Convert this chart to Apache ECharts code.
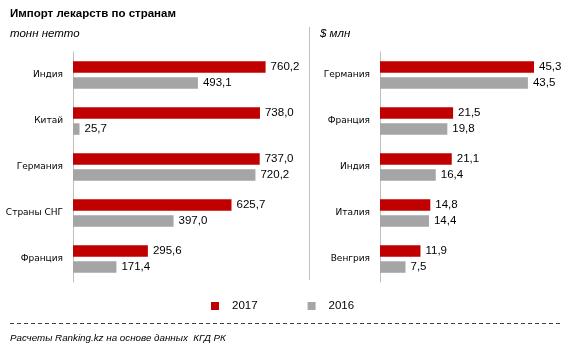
<!DOCTYPE html>
<html>
<head>
<meta charset="utf-8">
<script src="https://cdn.jsdelivr.net/npm/echarts@6/dist/echarts.min.js"></script>
<style>
  html, body { margin: 0; padding: 0; background: #fff; }
  #chart { width: 572px; height: 351px; }
</style>
</head>
<body>
<div id="chart"></div>
<script>
// left panel: tonnes
var tonCategories = ['Индия', 'Китай', 'Германия', 'Страны СНГ', 'Франция'];
var ton2017 = [760.2, 738.0, 737.0, 625.7, 295.6];
var ton2016 = [493.1, 25.7, 720.2, 397.0, 171.4];

// right panel: $ mln
var usdCategories = ['Германия', 'Франция', 'Индия', 'Италия', 'Венгрия'];
var usd2017 = [45.3, 21.5, 21.1, 14.8, 11.9];
var usd2016 = [43.5, 19.8, 16.4, 14.4, 7.5];

var RED = '#C00000';
var GRAY = '#A5A5A5';
var catFont = { fontFamily: 'DejaVu Sans', fontSize: 9, color: '#000' };
var valFont = { fontFamily: 'Liberation Sans', fontSize: 11.5, color: '#000' };

function fmt(p) {
  return p.value.toFixed(1).replace('.', ',');
}

function makeBar(name, color, data, xi) {
  return {
    name: name,
    type: 'bar',
    xAxisIndex: xi,
    yAxisIndex: xi,
    data: data,
    barWidth: 11.5,
    barGap: '40%',
    itemStyle: { color: color },
    label: {
      show: true,
      position: 'right',
      distance: 5,
      formatter: fmt,
      fontFamily: valFont.fontFamily,
      fontSize: valFont.fontSize,
      color: valFont.color
    },
    animation: false
  };
}

function makeYAxis(idx, cats) {
  return {
    type: 'category',
    gridIndex: idx,
    data: cats,
    inverse: true,
    axisTick: { show: false },
    axisLine: { show: true, lineStyle: { color: '#BFBFBF', width: 1 } },
    axisLabel: {
      margin: 10,
      fontFamily: catFont.fontFamily,
      fontSize: catFont.fontSize,
      color: catFont.color
    }
  };
}

function makeXAxis(idx, max) {
  return {
    type: 'value',
    gridIndex: idx,
    min: 0,
    max: max,
    show: false,
    splitLine: { show: false }
  };
}

var subStyle = { fontFamily: 'Liberation Sans', fontSize: 11.5, fontStyle: 'italic', fontWeight: 'normal', color: '#000' };

var chart = echarts.init(document.getElementById('chart'));
chart.setOption({
  backgroundColor: '#fff',
  animation: false,
  title: [{
    text: 'Импорт лекарств по странам',
    left: 10,
    top: 8,
    padding: 0,
    textStyle: { fontFamily: 'Liberation Sans', fontSize: 11.5, fontWeight: 'bold', color: '#000' }
  }, {
    text: 'тонн нетто',
    left: 10,
    top: 28,
    padding: 0,
    textStyle: subStyle
  }, {
    text: '$ млн',
    left: 320,
    top: 28,
    padding: 0,
    textStyle: subStyle
  }, {
    text: 'Расчеты Ranking.kz на основе данных  КГД РК',
    left: 10,
    top: 333,
    padding: 0,
    textStyle: { fontFamily: 'Liberation Sans', fontSize: 9.8, fontStyle: 'italic', fontWeight: 'normal', color: '#000' }
  }],
  legend: {
    data: ['2017', '2016'],
    left: 211,
    top: 300,
    padding: 0,
    icon: 'rect',
    itemWidth: 8,
    itemHeight: 8,
    itemGap: 50,
    textStyle: { fontFamily: 'Liberation Sans', fontSize: 11.5, color: '#000', padding: [0, 0, 0, 8] }
  },
  grid: [
    { left: 73, top: 52, width: 228, height: 230 },
    { left: 380, top: 52, width: 170, height: 230 }
  ],
  xAxis: [makeXAxis(0, 900), makeXAxis(1, 50)],
  yAxis: [makeYAxis(0, tonCategories), makeYAxis(1, usdCategories)],
  series: [
    makeBar('2017', RED, ton2017, 0),
    makeBar('2016', GRAY, ton2016, 0),
    makeBar('2017', RED, usd2017, 1),
    makeBar('2016', GRAY, usd2016, 1)
  ],
  graphic: [{
    type: 'line',
    shape: { x1: 309.5, y1: 27, x2: 309.5, y2: 280 },
    style: { stroke: '#BFBFBF', lineWidth: 1 }
  }, {
    type: 'line',
    shape: { x1: 10, y1: 323.5, x2: 562, y2: 323.5 },
    style: { stroke: '#404040', lineWidth: 1, lineDash: [4, 3] }
  }]
});
</script>
</body>
</html>
